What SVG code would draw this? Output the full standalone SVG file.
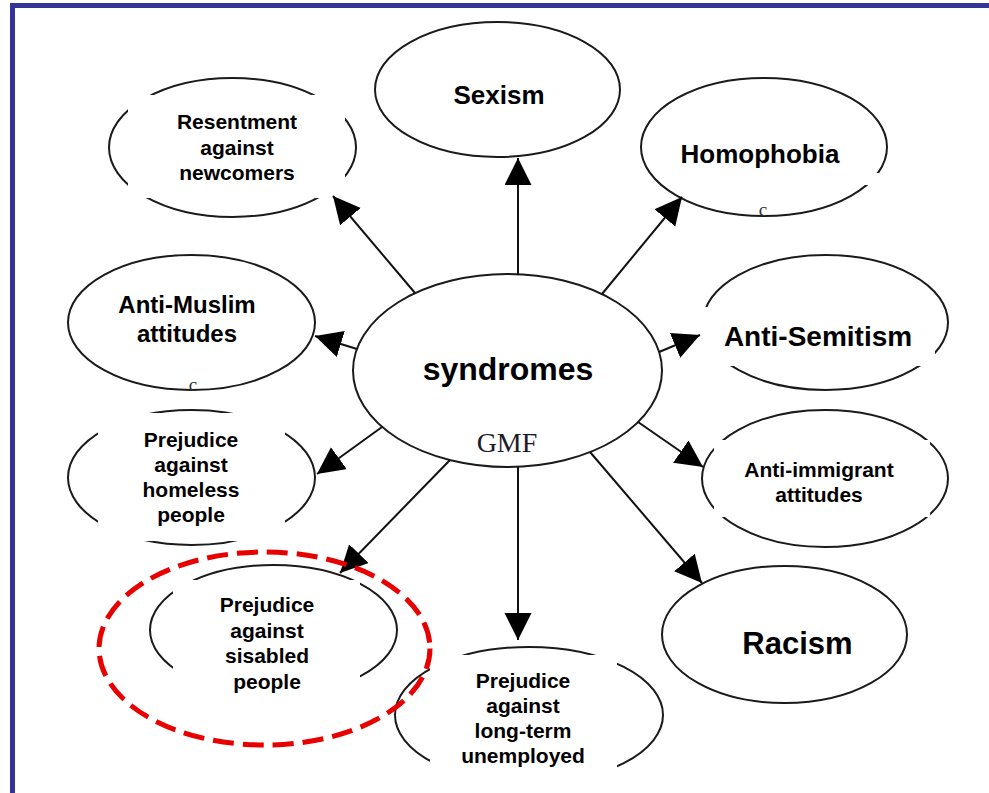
<svg xmlns="http://www.w3.org/2000/svg" width="989" height="793" viewBox="0 0 989 793">
<style>
.bg{fill:#ffffff}
.frame{fill:none;stroke:#333399;stroke-width:5}
.node{fill:#ffffff;stroke:#1a1a1a;stroke-width:2}
.mask{fill:#ffffff;stroke:none}
.lbl{font-family:"Liberation Sans",Arial,sans-serif;font-weight:bold;fill:#000;text-anchor:middle}
.gmf{font-family:"Liberation Serif","Times New Roman",serif;fill:#1c1c2c;text-anchor:middle;font-size:28px}
.art{font-family:"Liberation Serif","Times New Roman",serif;fill:#333;text-anchor:middle;font-size:19px}
.edge{stroke:#111;stroke-width:2;fill:none;marker-end:url(#arrow)}
.hl{fill:none;stroke:#e80000;stroke-width:5;stroke-dasharray:21 9}
</style>
<defs>
<marker id="arrow" markerUnits="userSpaceOnUse" markerWidth="28" markerHeight="28" refX="27" refY="13.5" orient="auto" viewBox="0 0 28 28">
<path d="M0,0 L27,13.5 L0,27 z" fill="#000"/>
</marker>
</defs>
<rect class="bg" x="0" y="0" width="989" height="793"/>
<path class="frame" d="M12.5,793 V5.5 H989"/>

<g id="node-sexism">
<ellipse class="node" cx="497.5" cy="89.5" rx="122.5" ry="67.5"/>
<text class="lbl" x="499" y="104" font-size="26">Sexism</text>
</g>
<g id="node-homophobia">
<ellipse class="node" cx="764" cy="147" rx="123" ry="69"/>
<rect class="mask" x="862" y="173" width="18" height="12"/>
<text class="lbl" x="760" y="163" font-size="26">Homophobia</text>
<text class="art" x="763" y="216">c</text>
</g>
<g id="node-resentment">
<ellipse class="node" cx="232.5" cy="147.5" rx="123.5" ry="69.5"/>
<rect class="mask" x="128" y="95" width="217" height="103"/>
<text class="lbl" x="237" y="129" font-size="21">Resentment</text>
<text class="lbl" x="237" y="155" font-size="21">against</text>
<text class="lbl" x="237" y="180" font-size="21">newcomers</text>
</g>
<g id="node-antimuslim">
<ellipse class="node" cx="191.5" cy="322.5" rx="123.5" ry="67.5"/>
<text class="lbl" x="187" y="313" font-size="24">Anti-Muslim</text>
<text class="lbl" x="187" y="342" font-size="24">attitudes</text>
<text class="art" x="193" y="391">c</text>
</g>
<g id="node-homeless">
<ellipse class="node" cx="191.5" cy="477.5" rx="123.5" ry="67.5"/>
<rect class="mask" x="98" y="413" width="187" height="128"/>
<text class="lbl" x="191" y="447" font-size="21">Prejudice</text>
<text class="lbl" x="191" y="472" font-size="21">against</text>
<text class="lbl" x="191" y="497" font-size="21">homeless</text>
<text class="lbl" x="191" y="522" font-size="21">people</text>
</g>
<g id="node-disabled">
<ellipse class="node" cx="273.5" cy="630" rx="123.5" ry="65"/>
<rect class="mask" x="173" y="580" width="187" height="132"/>
<text class="lbl" x="267" y="612" font-size="21">Prejudice</text>
<text class="lbl" x="267" y="638" font-size="21">against</text>
<text class="lbl" x="267" y="663" font-size="21">sisabled</text>
<text class="lbl" x="267" y="689" font-size="21">people</text>
</g>
<g id="node-unemployed">
<ellipse class="node" cx="529" cy="715" rx="134" ry="68"/>
<rect class="mask" x="430" y="655" width="187" height="138"/>
<text class="lbl" x="523" y="688" font-size="21">Prejudice</text>
<text class="lbl" x="523" y="713" font-size="21">against</text>
<text class="lbl" x="523" y="738" font-size="21">long-term</text>
<text class="lbl" x="523" y="763" font-size="21">unemployed</text>
</g>
<g id="node-racism">
<ellipse class="node" cx="784.5" cy="634.5" rx="122.5" ry="68.5"/>
<text class="lbl" x="797.5" y="654" font-size="31">Racism</text>
</g>
<g id="node-antiimmigrant">
<ellipse class="node" cx="825" cy="478.5" rx="123" ry="68.5"/>
<rect class="mask" x="714" y="440" width="216" height="77"/>
<text class="lbl" x="819" y="477" font-size="21">Anti-immigrant</text>
<text class="lbl" x="819" y="502" font-size="21">attitudes</text>
</g>
<g id="node-antisemitism">
<ellipse class="node" cx="825.5" cy="322.5" rx="122.5" ry="67.5"/>
<rect class="mask" x="702" y="307" width="233" height="59"/>
<text class="lbl" x="818" y="346" font-size="28">Anti-Semitism</text>
</g>
<g id="node-syndromes">
<ellipse class="node" cx="507.5" cy="370.5" rx="154.5" ry="96.5"/>
<text class="lbl" x="508" y="380" font-size="32">syndromes</text>
<text class="gmf" x="507" y="452">GMF</text>
</g>

<g id="connectors">
<line class="edge" x1="518" y1="275" x2="518" y2="158"/>
<line class="edge" x1="602" y1="294" x2="682" y2="197"/>
<line class="edge" x1="415" y1="293" x2="333" y2="196"/>
<line class="edge" x1="357" y1="349" x2="315" y2="336"/>
<line class="edge" x1="382" y1="427" x2="317" y2="474"/>
<line class="edge" x1="450" y1="460" x2="340" y2="573"/>
<line class="edge" x1="518" y1="467" x2="518" y2="640"/>
<line class="edge" x1="590" y1="452" x2="702" y2="583"/>
<line class="edge" x1="638" y1="422" x2="703" y2="467"/>
<line class="edge" x1="659" y1="352" x2="700" y2="335"/>
</g>

<g id="highlight">
<ellipse class="hl" cx="264.5" cy="648.5" rx="165.5" ry="96.5"/>
</g>
</svg>
